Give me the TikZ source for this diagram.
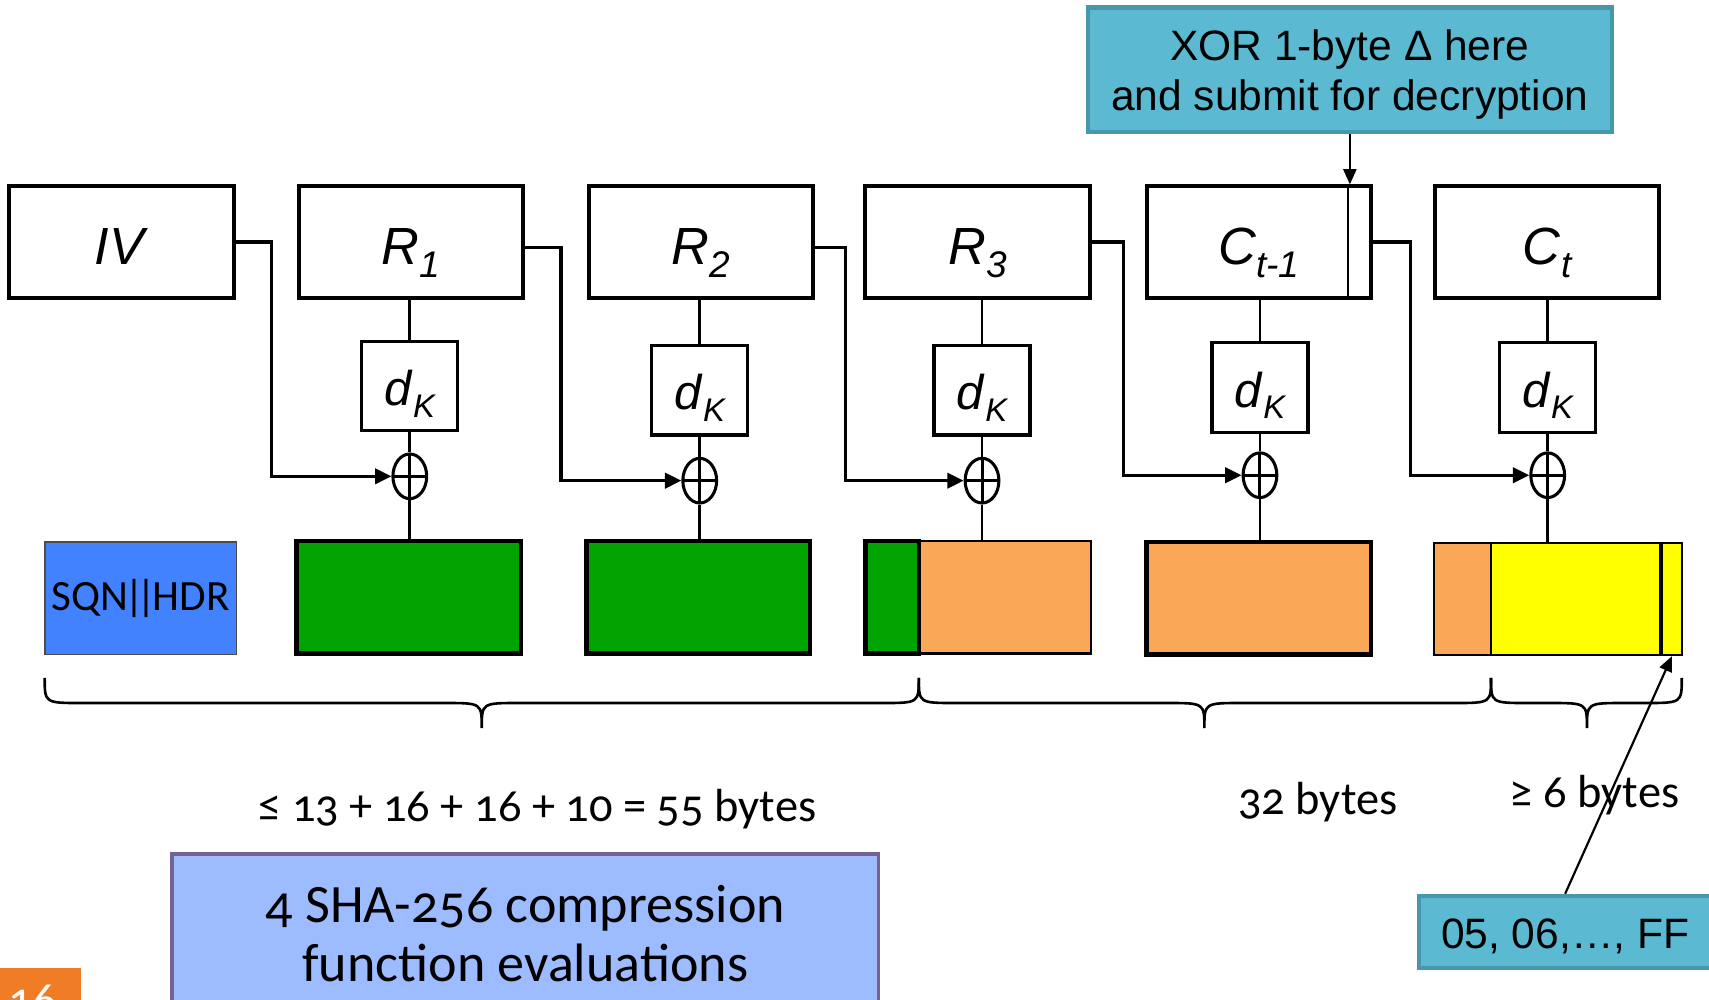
\documentclass[tikz,border=0pt]{standalone}
\usepackage{fontspec}
\setmainfont{Liberation Sans}
\newfontfamily\cand{Carlito}[Numbers=OldStyle]
\usetikzlibrary{arrows.meta,shapes.geometric,calc}
\definecolor{tealF}{RGB}{91,185,209}
\definecolor{tealB}{RGB}{72,150,172}
\definecolor{shaF}{RGB}{157,187,255}
\definecolor{shaB}{RGB}{116,98,146}
\definecolor{sqnB}{RGB}{66,130,255}
\definecolor{grn}{RGB}{0,163,0}
\definecolor{org}{RGB}{249,168,87}
\definecolor{yel}{RGB}{255,255,0}
\definecolor{pgo}{RGB}{240,125,38}
\newcommand\bigsub[2]{\textit{#1}\raisebox{-5.7pt}{\fontsize{17}{17}\selectfont\itshape #2}}
\newcommand\dksub{\textit{d}\raisebox{-5.3pt}{\fontsize{15}{15}\selectfont\itshape K}}
\newcommand\mybrace[3]{\draw[bline] (#1,622) .. controls (#1,645) and (#1,645) .. ({#1+34},645) -- ({#2-34},645) .. controls (#2,645) and (#2,645) .. (#2,668) .. controls (#2,645) and (#2,645) .. ({#2+34},645) -- ({#3-34},645) .. controls (#3,645) and (#3,645) .. (#3,622);}
\begin{document}
\begin{tikzpicture}[x=0.5pt,y=-0.5pt,
  topbox/.style={draw,line width=1.8pt,minimum width=103pt,minimum height=51pt,inner sep=0pt,font=\fontsize{24}{28}\selectfont,text height=21pt,text depth=0pt},
  dkbox/.style={draw,line width=1.5pt,minimum width=44pt,minimum height=41pt,inner sep=0pt,font=\fontsize{22.4}{26}\selectfont,text height=18pt,text depth=0pt},
  xorc/.style={ellipse,draw,line width=1.4pt,minimum width=15.5pt,minimum height=20.5pt,inner sep=0pt,
    path picture={\draw[line width=1.4pt] (path picture bounding box.north) -- (path picture bounding box.south) (path picture bounding box.west) -- (path picture bounding box.east);}},
  ln/.style={line width=1.3pt},
  conn/.style={line width=1.5pt,-{Triangle[length=7.5pt,width=7pt]}},
  blk/.style={minimum height=51.5pt,inner sep=0pt},
  thickblk/.style={blk,draw,line width=2pt},
  thinblk/.style={blk,draw,line width=1pt},
  tealbox/.style={fill=tealF,draw=tealB,line width=2pt,inner sep=0pt,font=\fontsize{19.5}{23}\selectfont},
  lab/.style={inner sep=0pt,font=\cand\fontsize{21.3}{24}\selectfont},
  bline/.style={line width=1.2pt}
]
\fill[white] (0,0) rectangle (1568,917);
\clip (0,0) rectangle (1568,917);

% top row
\node[topbox] (IV) at (111.5,222) {\textit{IV}};
\node[topbox] (R1) at (377,222) {\bigsub{R}{1}};
\node[topbox] (R2) at (643,222) {\bigsub{R}{2}};
\node[topbox] (R3) at (897,222) {\bigsub{R}{3}};
\node[topbox] (Ct1) at (1155,222) {\bigsub{C}{t-1}};
\node[topbox] (Ct) at (1419.5,222) {\bigsub{C}{t}};
\draw[line width=1pt] ($(Ct1.north east)+(-23,0)$) -- ($(Ct1.south east)+(-23,0)$);

% decryption boxes
\node[dkbox] (d1) at (376,354) {\dksub};
\node[dkbox] (d2) at (642,358) {\dksub};
\node[dkbox] (d3) at (901,358) {\dksub};
\node[dkbox] (d4) at (1156,355.5) {\dksub};
\node[dkbox] (d5) at (1420,355.5) {\dksub};

% xor
\node[xorc] (x1) at (376,437) {};
\node[xorc] (x2) at (642,441) {};
\node[xorc] (x3) at (901,441) {};
\node[xorc] (x4) at (1156,436) {};
\node[xorc] (x5) at (1420,436) {};

% bottom row
\node[blk,fill=sqnB,draw=black!70,line width=0.8pt,minimum width=88pt,font=\cand\fontsize{19.8}{22}\selectfont] (SQN) at (129,549) {SQN\kern-1.6pt|\kern-3.8pt|\kern-1.6pt HDR};
\node[thickblk,fill=grn,minimum width=103pt] (G1) at (375,548) {};
\node[thickblk,fill=grn,minimum width=102.5pt] (G2) at (640.5,548) {};
\node[thinblk,fill=org,minimum width=79pt] (G3b) at (922,548) {};
\node[thickblk,fill=grn,minimum width=24.5pt] (G3a) at (818.5,548) {};
\node[thickblk,fill=org,minimum width=103pt] (O4) at (1155,549) {};
\node[thinblk,fill=org,minimum width=26pt] (L1) at (1342,549.5) {};
\node[thinblk,fill=yel,minimum width=87.5pt] (L2) at (1455.5,549.5) {};
\node[thinblk,fill=yel,minimum width=9pt] (L3) at (1534,549.5) {};
\draw[line width=1.5pt] (L3.north west) -- (L3.south west);

% vertical lines
\foreach \t/\d/\x/\b in {R1/d1/x1/G1,R2/d2/x2/G2,R3/d3/x3/G3b,Ct1/d4/x4/O4,Ct/d5/x5/L2}{
  \draw[ln] (\t.south -| \d.north) -- (\d.north);
  \draw[ln] (\d.south) -- (\x.north);
  \draw[ln] (\x.south) -- (\x.south |- \b.north);
}

% chaining connectors
\draw[conn] (IV.east) -- ++(33,0) |- (x1.west);
\draw[conn] ([yshift=-2.5pt]R1.east) -- ++(33,0) |- (x2.west);
\draw[conn] ([yshift=-2.5pt]R2.east) -- ++(28,0) |- (x3.west);
\draw[conn] (R3.east) -- ++(29,0) |- (x4.west);
\draw[conn] (Ct1.east) -- ++(34,0) |- (x5.west);

% XOR note
\node[tealbox,minimum width=240.5pt,minimum height=57pt,align=center] (XOR) at (1238.5,64) {\rule{0pt}{18.5pt}XOR 1-byte Δ here\\and submit for decryption};
\draw[line width=1pt,-{Triangle[length=7pt,width=6pt]}] (XOR.south) -- (XOR.south |- Ct1.north);

% braces
\mybrace{41}{442}{843}
\mybrace{843}{1105}{1368}
\mybrace{1368}{1456}{1543}

% labels
\node[lab,anchor=base] (B1) at (493,754) {≤ 13 + 16 + 16 + 10 = 55 bytes};
\node[lab,anchor=base] (B2) at (1209,747) {32 bytes};
\node[lab,anchor=base] (B3) at (1463,741) {≥ 6 bytes};

% SHA box
\node[anchor=north,fill=shaF,draw=shaB,line width=1.8pt,minimum width=324pt,inner xsep=4pt,inner ysep=14pt,align=center,font=\cand\fontsize{24.8}{27.5}\selectfont] (SHA) at (482,782) {4 SHA-256 compression\\function evaluations};

% padding bytes
\node[tealbox,minimum width=134pt,minimum height=33pt,text height=15pt,text depth=0pt] (V) at (1436,855) {05, 06,…, FF};
\draw[line width=1pt,-{Triangle[length=7pt,width=6pt]}] (V.north) -- (L3.south);

% page number
\node[fill=pgo,anchor=north west,minimum width=37pt,minimum height=20pt,inner sep=0pt] (pgbox) at (0,888) {};
\node[anchor=base,text=white,inner sep=0pt,font=\cand\fontsize{22}{24}\selectfont] (pg) at (30,932) {16};
\end{tikzpicture}
\end{document}
